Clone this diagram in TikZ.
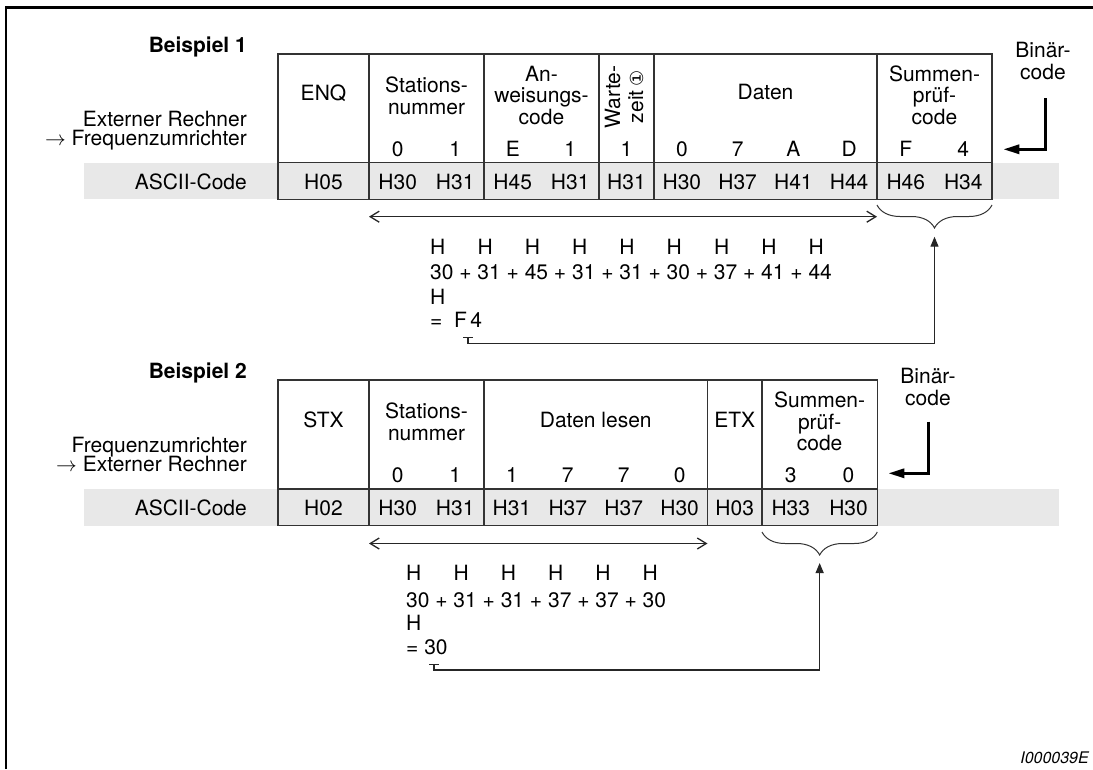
\documentclass[tikz,border=0pt]{standalone}
\usepackage{fontspec}
\setmainfont{TeX Gyre Heros}
\newfontfamily\circfont{DejaVu Sans}
\usepackage{tikz}
\usetikzlibrary{arrows.meta, decorations.pathreplacing}

\newcommand{\txtsize}{\fontsize{21}{21.5}\selectfont}

\begin{document}
\begin{tikzpicture}[x=1pt, y=-1pt,
    every node/.style={inner sep=0pt, font=\txtsize},
    cell/.style={draw=black!80, line width=1.3pt},
    band/.style={fill=gray!18},
    head/.style={align=center},
    chr/.style={anchor=base},
    lbl/.style={anchor=base east},
    sumtxt/.style={anchor=base west},
    span/.style={{Straight Barb[length=9pt,width=11pt]}-{Straight Barb[length=9pt,width=11pt]}, line width=1.3pt, black!85},
    brc/.style={decorate, decoration={brace, amplitude=23pt}, line width=1pt, black!80},
    back/.style={-{Triangle[length=10pt,width=8pt]}, line width=1.2pt, black!85},
    bin/.style={-{Triangle[length=16pt,width=9pt]}, line width=3pt}]

    \useasboundingbox (0,0) rectangle (1093,769);

    % Frame
    \draw[line width=2.5pt] (6,769) -- (6,7.5) -- (1093,7.5);

    % Beispiel 1: table
    \fill[band] (84,162.7) rectangle (1059,199.3);
    \draw[cell] (278,54) rectangle (992,199.3);
    \draw[cell] (278,162.7) -- (992,162.7);
    \foreach \x in {369,484,599,654,877}
        \draw[cell] (\x,54) -- (\x,199.3);

    % Beispiel 1: labels
    \node[lbl, font=\txtsize\bfseries] (bsp1) at (247,52.5) {Beispiel 1};
    \node[lbl] (von1) at (247,126) {Externer Rechner};
    \node[lbl] (nach1) at (247,145) {$\rightarrow$ Frequenzumrichter};
    \node[lbl] (asc1) at (247,189) {ASCII-Code};

    % Beispiel 1: header
    \node[head] (enq1) at (323.5,93) {ENQ};
    \node[head] (stn1) at (426.5,96) {Stations-\\nummer};
    \node[head] (anw1) at (541.5,95) {An-\\weisungs-\\code};
    \node[head, rotate=90, font=\fontsize{21}{23}\selectfont] (wz1) at (624,97) {Warte-\\zeit\,{\circfont\fontsize{18}{18}\selectfont ①}};
    \node[head] (dat1) at (765.5,92) {Daten};
    \node[head] (spc1) at (934.5,95) {Summen-\\prüf-\\code};

    % Beispiel 1: characters and ASCII values
    \foreach \x/\c [count=\i] in {397.75/0, 455.25/1, 512.75/E, 570.25/1, 626.5/1,
        681.9/0, 737.6/7, 793.4/A, 849.1/D, 905.75/F, 963.25/4}
        \node[chr] (za\i) at (\x,156) {\c};
    \foreach \x/\c [count=\i] in {323.5/H05, 397.75/H30, 455.25/H31, 512.75/H45, 570.25/H31,
        626.5/H31, 681.9/H30, 737.6/H37, 793.4/H41, 849.1/H44, 905.75/H46, 963.25/H34}
        \node[chr] (xa\i) at (\x,189) {\c};

    % Beispiel 1: binary code
    \node[head] (bin1) at (1043,61) {Binär-\\code};
    \coordinate (ba1) at (1045.7,98);
    \coordinate (bb1) at (1003.3,149.3);
    \draw[bin] (ba1) |- (bb1);

    % Beispiel 1: checksum
    \coordinate (pl1) at (369,216.7);
    \coordinate (pr1) at (877,216.7);
    \draw[span] (pl1) -- (pr1);
    \draw[brc] (992,205) -- (877,205);
    \foreach \i in {0,...,8}
        \node[sumtxt] (ha\i) at ({430+47.3*\i},254) {H};
    \node[sumtxt] (rech1) at (430,279) {30 + 31 + 45 + 31 + 31 + 30 + 37 + 41 + 44};
    \node[sumtxt] (hx1) at (430,304) {H};
    \node[sumtxt] (erg1) at (430,327.5) {=\ \ F\,4};
    \coordinate (fb1) at (468,337.3);
    \coordinate (ziel1) at (934.5,236.7);
    \draw[line width=1.2pt, black!85] (fb1) ++(-5,0) -- ++(10,0);
    \draw[back] (fb1) -- ++(0,6) -| (ziel1);

    % Beispiel 2: table
    \fill[band] (84,489) rectangle (1059,525.7);
    \draw[cell] (278,380) rectangle (877.3,525.7);
    \draw[cell] (278,489) -- (877.3,489);
    \foreach \x in {369,484,707.5,762}
        \draw[cell] (\x,380) -- (\x,525.7);

    % Beispiel 2: labels
    \node[lbl, font=\txtsize\bfseries] (bsp2) at (247,378.5) {Beispiel 2};
    \node[lbl] (von2) at (247,452) {Frequenzumrichter};
    \node[lbl] (nach2) at (247,471) {$\rightarrow$ Externer Rechner};
    \node[lbl] (asc2) at (247,515) {ASCII-Code};

    % Beispiel 2: header
    \node[head] (stx2) at (323.5,419.5) {STX};
    \node[head] (stn2) at (426.5,422) {Stations-\\nummer};
    \node[head] (dat2) at (595.75,419.5) {Daten lesen};
    \node[head] (etx2) at (734.75,419.5) {ETX};
    \node[head] (spc2) at (819.65,421.5) {Summen-\\prüf-\\code};

    % Beispiel 2: characters and ASCII values
    \foreach \x/\c [count=\i] in {397.75/0, 455.25/1, 511.9/1, 567.8/7, 623.7/7, 679.6/0,
        790.8/3, 848.5/0}
        \node[chr] (zb\i) at (\x,482) {\c};
    \foreach \x/\c [count=\i] in {323.5/H02, 397.75/H30, 455.25/H31, 511.9/H31, 567.8/H37,
        623.7/H37, 679.6/H30, 734.75/H03, 790.8/H33, 848.5/H30}
        \node[chr] (xb\i) at (\x,515) {\c};

    % Beispiel 2: binary code
    \node[head] (bin2) at (928,387) {Binär-\\code};
    \coordinate (ba2) at (928.3,421.7);
    \coordinate (bb2) at (888.3,473.3);
    \draw[bin] (ba2) |- (bb2);

    % Beispiel 2: checksum
    \coordinate (pl2) at (369,543.5);
    \coordinate (pr2) at (707.5,543.5);
    \draw[span] (pl2) -- (pr2);
    \draw[brc] (877.3,532) -- (762,532);
    \foreach \i in {0,...,5}
        \node[sumtxt] (hb\i) at ({406+47.3*\i},580.8) {H};
    \node[sumtxt] (rech2) at (406,607.5) {30 + 31 + 31 + 37 + 37 + 30};
    \node[sumtxt] (hx2) at (406,630.8) {H};
    \node[sumtxt] (erg2) at (406,654.8) {= 30};
    \coordinate (fb2) at (434,664.5);
    \coordinate (ziel2) at (819.65,563);
    \draw[line width=1.2pt, black!85] (fb2) ++(-5,0) -- ++(10,0);
    \draw[back] (fb2) -- ++(0,5.5) -| (ziel2);

    % Figure number
    \node[anchor=base east, font=\fontsize{16}{16}\selectfont\itshape] (fig) at (1089,763.5) {I000039E};
\end{tikzpicture}
\end{document}
